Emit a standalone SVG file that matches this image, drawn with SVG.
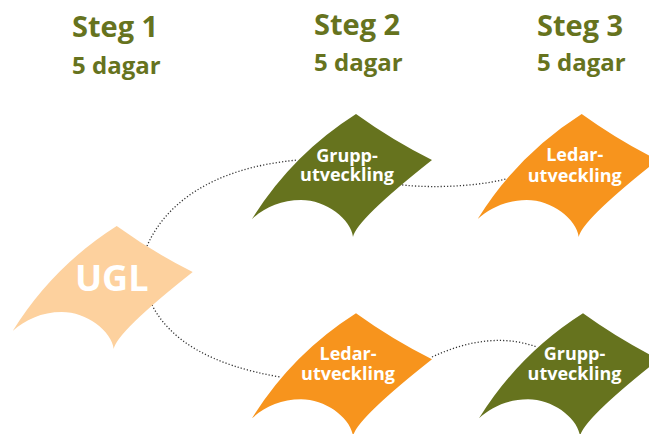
<svg xmlns="http://www.w3.org/2000/svg" width="649" height="434" viewBox="0 0 649 434">
<style>
.hd{font-family:"Open Sans","Liberation Sans",sans-serif;font-weight:bold;fill:#66731e}
.h1{font-size:29px}
.h2{font-size:24px}
.lbl{font-family:"Open Sans","Liberation Sans",sans-serif;font-weight:bold;fill:#ffffff;font-size:18px;text-anchor:middle}
.big{font-size:36px}
.conn{fill:none;stroke:#333333;stroke-width:1.3;stroke-dasharray:1.2 2}
.olive{fill:#66731e}
.orange{fill:#f7941d}
.peach{fill:#fdd19e}
</style>
<defs>
<path id="kite" d="M0,0 Q36,26 76,46 Q0,106 -3,123 C-5,105 -30,86 -55,86 C-75,86 -92,94 -104,105 Q-64,40.6 0,0 Z"/>
</defs>
<g id="headers">
<text class="hd h1" x="72" y="37">Steg 1</text>
<text class="hd h2" x="72" y="74">5 dagar</text>
<text class="hd h1" x="314" y="35">Steg 2</text>
<text class="hd h2" x="314" y="71">5 dagar</text>
<text class="hd h1" x="537" y="36">Steg 3</text>
<text class="hd h2" x="537" y="71">5 dagar</text>
</g>
<g id="connectors">
<path class="conn" d="M147,246 C165,205 210,168 298,160"/>
<path class="conn" d="M152,305 C170,340 210,365 280,377"/>
<path class="conn" d="M396,184 C420,188 470,188 506,179"/>
<path class="conn" d="M432,357 Q490,330 537,347"/>
</g>
<g id="ugl" transform="translate(116.7,226)">
<use href="#kite" class="peach"/>
<text class="lbl big" x="-5" y="65">UGL</text>
</g>
<g id="grupp1" transform="translate(356,114)">
<use href="#kite" class="olive"/>
<text class="lbl" x="-9" y="47.7">Grupp-</text>
<text class="lbl" x="-9" y="67.2">utveckling</text>
</g>
<g id="ledar1" transform="translate(356,313.3)">
<use href="#kite" class="orange"/>
<text class="lbl" x="-8" y="46.7">Ledar-</text>
<text class="lbl" x="-8" y="66.7">utveckling</text>
</g>
<g id="ledar2" transform="translate(581.7,114)">
<use href="#kite" class="orange"/>
<text class="lbl" x="-7" y="46.7">Ledar-</text>
<text class="lbl" x="-7" y="67.5">utveckling</text>
</g>
<g id="grupp2" transform="translate(583,313.3)">
<use href="#kite" class="olive"/>
<text class="lbl" x="-8.5" y="46.7">Grupp-</text>
<text class="lbl" x="-8.5" y="66.7">utveckling</text>
</g>
</svg>
